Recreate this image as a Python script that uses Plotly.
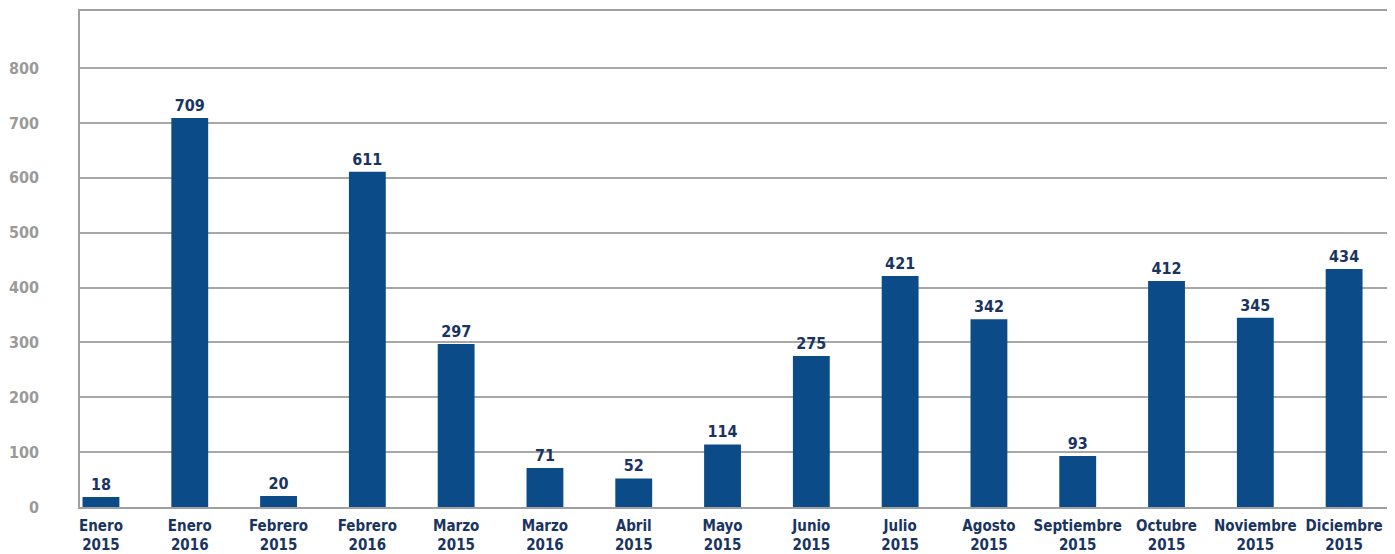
import plotly.graph_objects as go

months = ["Enero", "Enero", "Febrero", "Febrero", "Marzo", "Marzo", "Abril", "Mayo",
          "Junio", "Julio", "Agosto", "Septiembre", "Octubre", "Noviembre", "Diciembre"]
years = ["2015", "2016", "2015", "2016", "2015", "2016", "2015", "2015",
         "2015", "2015", "2015", "2015", "2015", "2015", "2015"]
values = [18, 709, 20, 611, 297, 71, 52, 114, 275, 421, 342, 93, 412, 345, 434]
y_ticks = [0, 100, 200, 300, 400, 500, 600, 700, 800]

categories = [f"{m}<br>{y}" for m, y in zip(months, years)]
x_idx = list(range(len(values)))

NAVY = "#1a3461"
FONT = "DejaVu Sans Condensed, DejaVu Sans, sans-serif"

fig = go.Figure()
fig.add_trace(go.Bar(
    x=x_idx,
    y=values,
    marker=dict(color="#0b4c88", line=dict(width=0)),
    text=[str(v) for v in values],
    textposition="outside",
    textfont=dict(family=FONT, size=16, color=NAVY, weight="bold"),
    cliponaxis=False,
    width=0.415,
))

fig.update_layout(
    width=1395, height=554,
    margin=dict(l=69, r=8, t=1, b=55),
    paper_bgcolor="white",
    plot_bgcolor="white",
    showlegend=False,
    font=dict(family=FONT),
    xaxis=dict(
        tickmode="array",
        tickvals=x_idx,
        ticktext=categories,
        tickfont=dict(family=FONT, size=15, color=NAVY, weight="bold"),
        range=[-0.236, 14.573],
        showgrid=False,
        showline=True,
        mirror=True,
        linecolor="#a0a0a0",
        linewidth=1.5,
        ticks="",
        zeroline=False,
        ticklabelstandoff=4,
    ),
    yaxis=dict(
        range=[0, 904],
        tickmode="array",
        tickvals=y_ticks,
        tickfont=dict(family=FONT, size=16, color="#9a9a9a", weight="bold"),
        showgrid=True,
        gridcolor="#a8a8a8",
        gridwidth=1.5,
        showline=True,
        linecolor="#a0a0a0",
        linewidth=1.5,
        zeroline=False,
        ticks="",
        ticklabelstandoff=36,
    ),
)

fig.write_html("out.html")
